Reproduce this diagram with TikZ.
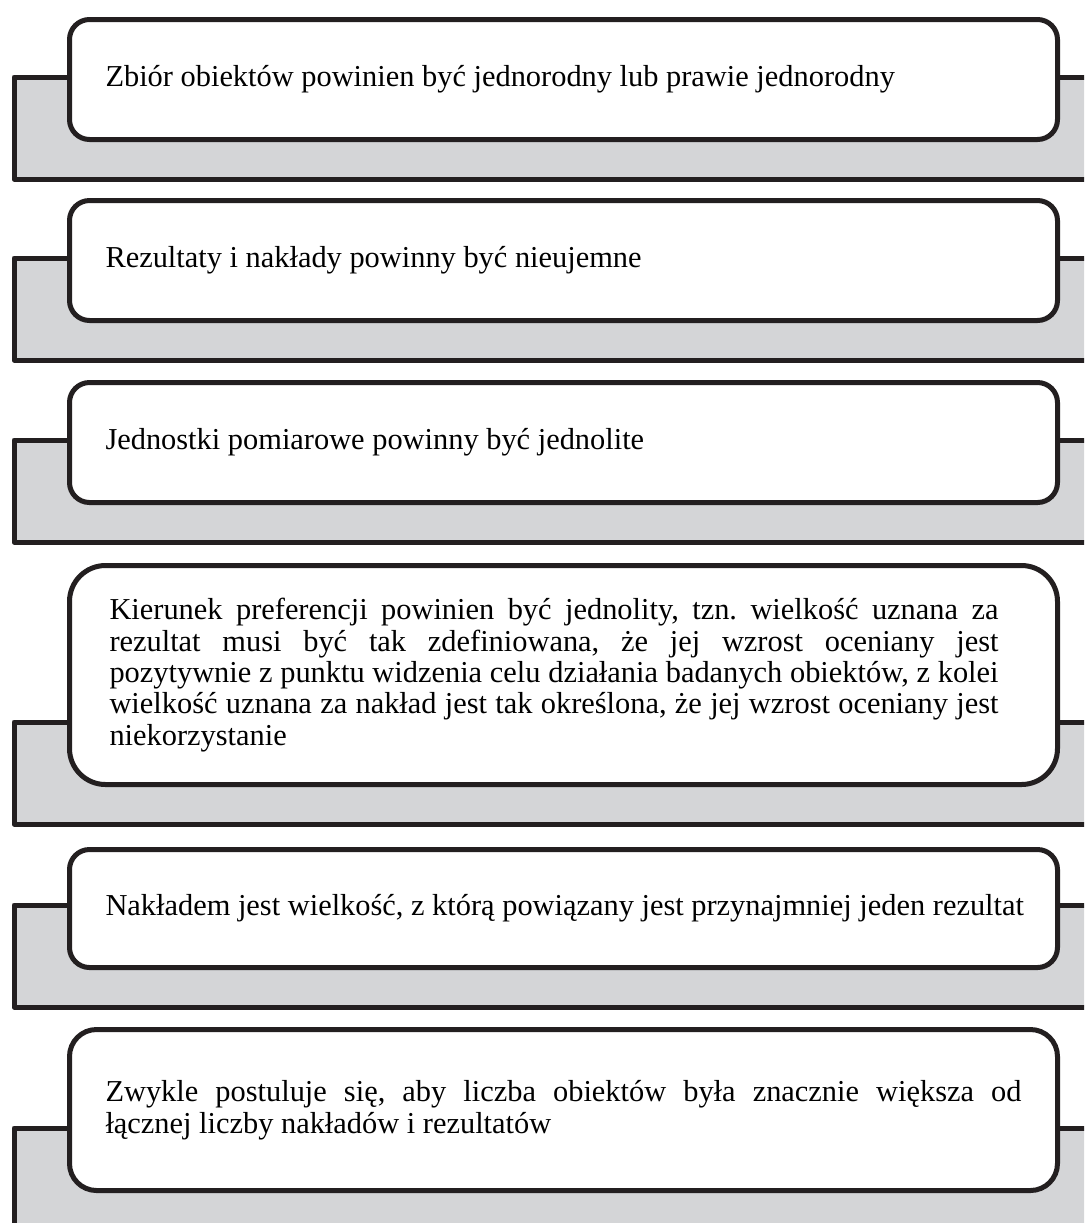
\documentclass[tikz,border=0pt]{standalone}
\usepackage{fontspec}
\setmainfont{Liberation Serif}
\frenchspacing
\definecolor{szary}{RGB}{212,213,215}
\definecolor{kontur}{RGB}{35,31,32}
\tikzset{
    pasek/.style={fill=szary, draw=kontur, line width=2.5pt, line join=round},
    ramka/.style={draw=kontur, fill=white, line width=2.5pt, anchor=north west,
        inner xsep=18pt, inner ysep=0pt, text width=458pt, align=justify,
        font=\fontsize{15.2pt}{15.7pt}\selectfont}
}
\begin{document}
\begin{tikzpicture}[x=0.5pt, y=-0.5pt]
        \useasboundingbox (0,0) rectangle (1084,1223);
        \clip (0,0) rectangle (1084,1223);
        \draw[pasek] (1100,77) -- (14,77) -- (14,179) -- (1100,179);
        \draw[pasek] (1100,258) -- (14,258) -- (14,360) -- (1100,360);
        \draw[pasek] (1100,440) -- (14,440) -- (14,542) -- (1100,542);
        \draw[pasek] (1100,722) -- (14,722) -- (14,824) -- (1100,824);
        \draw[pasek] (1100,905) -- (14,905) -- (14,1007) -- (1100,1007);
        \draw[pasek] (1100,1128) -- (14,1128) -- (14,1240) -- (1100,1240);
        \node[ramka, minimum height=60pt, rounded corners=10pt] (b1) at (67,17)
            {Zbiór obiektów powinien być jednorodny lub prawie jednorodny};
        \node[ramka, minimum height=60pt, rounded corners=10pt] (b2) at (67,198)
            {Rezultaty i nakłady powinny być nieujemne};
        \node[ramka, minimum height=60pt, rounded corners=10pt] (b3) at (67,380)
            {Jednostki pomiarowe powinny być jednolite};
        \node[ramka, minimum height=109.5pt, rounded corners=18pt] (b4) at (67,563)
            {\hspace*{2pt}\parbox{444.5pt}{Kierunek preferencji powinien być jednolity, tzn. wielkość uznana za\linebreak
            rezultat musi być tak zdefiniowana, że jej wzrost oceniany jest\linebreak
            pozytywnie z punktu widzenia celu działania badanych obiektów, z kolei\linebreak
            wielkość uznana za nakład jest tak określona, że jej wzrost oceniany jest\linebreak
            niekorzystanie}};
        \node[ramka, minimum height=59pt, rounded corners=10pt] (b5) at (67,847)
            {\mbox{Nakładem jest wielkość, z którą powiązany jest przynajmniej jeden rezultat}};
        \node[ramka, minimum height=80.5pt, rounded corners=13.5pt] (b6) at (67,1027)
            {Zwykle postuluje się, aby liczba obiektów była znacznie większa od\linebreak
            łącznej liczby nakładów i rezultatów};
\end{tikzpicture}
\end{document}
